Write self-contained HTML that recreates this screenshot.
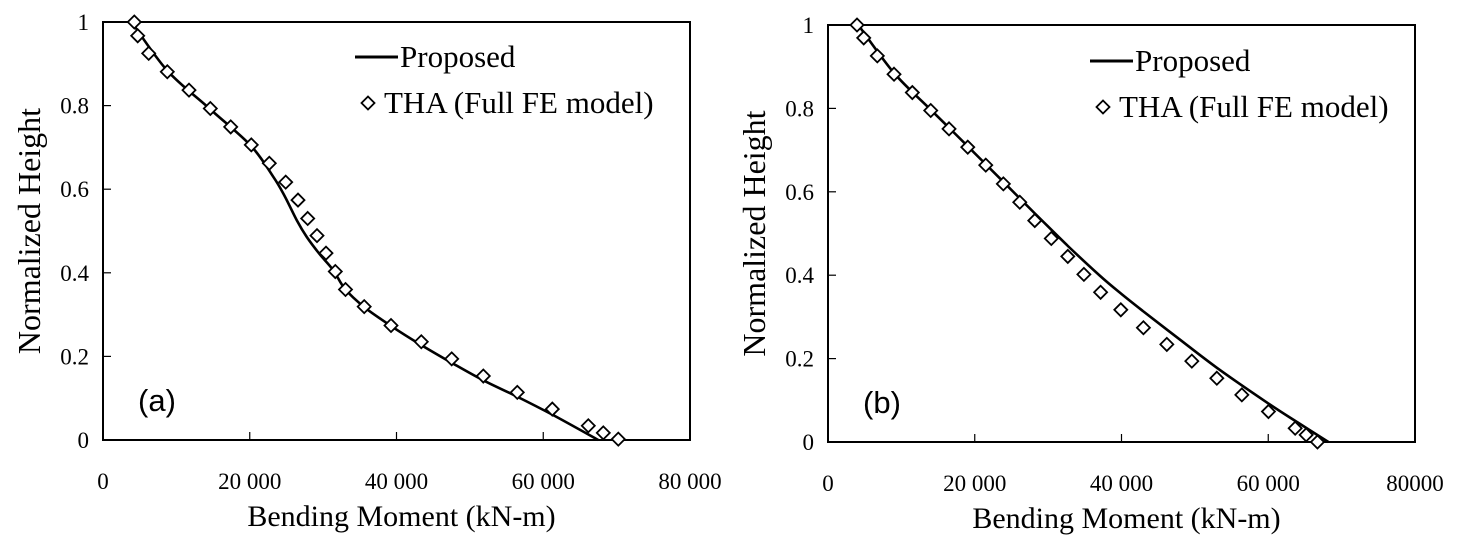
<!DOCTYPE html>
<html><head><meta charset="utf-8"><style>
html,body{margin:0;padding:0;background:#fff;}
svg{display:block;}
text{font-family:"Liberation Serif",serif;fill:#000;}
</style></head>
<body>
<svg id="chart" width="1460" height="547" viewBox="0 0 1460 547" xmlns="http://www.w3.org/2000/svg"></svg>
<script>
// Panel (a) data
const aThaX = [4266,4729,6228,8763,11721,14624,17404,20211,22665,24900,26576,27898,29165,30392,31659,33049,35598,39251,43380,47523,51830,56463,61233,66140,68184,70228];
const aThaY = [1.0,0.967,0.925,0.881,0.837,0.793,0.749,0.706,0.662,0.617,0.574,0.530,0.489,0.447,0.403,0.360,0.319,0.274,0.235,0.194,0.153,0.114,0.074,0.034,0.017,0.002];
const aPropX = [3900,8700,14500,20100,23200,24800,26400,27760,29500,31350,33000,35600,39250,43300,47500,51800,56400,61300,67500];
const aPropY = [1.0,0.885,0.793,0.705,0.63,0.582,0.526,0.486,0.445,0.407,0.361,0.318,0.273,0.228,0.185,0.143,0.104,0.06,0.0];
// Panel (b) data
const bThaX = [3954,4867,6721,8998,11493,14001,16496,19046,21500,23899,26135,28180,30430,32680,34874,37150,39905,42986,46176,49584,52993,56401,60027,63667,65167,66707];
const bThaY = [1.0,0.969,0.926,0.882,0.838,0.795,0.751,0.707,0.664,0.619,0.575,0.531,0.488,0.445,0.402,0.359,0.317,0.274,0.234,0.194,0.153,0.113,0.073,0.033,0.017,0.0];
const bPropX = [4130,9000,14000,19000,24000,28200,32700,37100,40000,43000,48000,53000,59800,64000,68200];
const bPropY = [1.0,0.885,0.797,0.71,0.622,0.548,0.47,0.398,0.355,0.313,0.245,0.178,0.095,0.047,0.0];
// Ticks
const xTickVals = [0,20000,40000,60000,80000];
const xTickLabelsA = ["0","20 000","40 000","60 000","80 000"];
const xTickLabelsB = ["0","20 000","40 000","60 000","80000"];
const yTickVals = [0,0.2,0.4,0.6,0.8,1];
const yTickLabels = ["0","0.2","0.4","0.6","0.8","1"];

const NS="http://www.w3.org/2000/svg";
const svg=document.getElementById('chart');
function mk(tag,attrs,parent){const e=document.createElementNS(NS,tag);for(const k in attrs)e.setAttribute(k,attrs[k]);(parent||svg).appendChild(e);return e;}
function smoothPath(P){
  let d=`M${P[0][0].toFixed(1)},${P[0][1].toFixed(1)}`;
  for(let i=0;i<P.length-1;i++){
    const p0=P[i-1]||P[i],p1=P[i],p2=P[i+1],p3=P[i+2]||P[i+1];
    const c1=[p1[0]+(p2[0]-p0[0])/6,p1[1]+(p2[1]-p0[1])/6];
    const c2=[p2[0]-(p3[0]-p1[0])/6,p2[1]-(p3[1]-p1[1])/6];
    d+=` C${c1[0].toFixed(1)},${c1[1].toFixed(1)} ${c2[0].toFixed(1)},${c2[1].toFixed(1)} ${p2[0].toFixed(1)},${p2[1].toFixed(1)}`;
  }
  return d;
}

function panel(cfg){
  const g=mk('g',{});
  
  
  const sx=v=>cfg.x0+(v/80000)*(cfg.x1-cfg.x0);
  const sy=v=>cfg.yb-v*(cfg.yb-cfg.yt);
  const frame=mk('rect',{x:cfg.x0,y:cfg.yt,width:cfg.x1-cfg.x0,height:cfg.yb-cfg.yt,fill:'none',stroke:'#000','stroke-width':2},g);
  
  
  xTickVals.forEach((v,i)=>{
    const x=sx(v);
    if(i>0&&i<xTickVals.length-1){const t=mk('line',{x1:x,x2:x,y1:cfg.yb,y2:cfg.yb-8,stroke:'#000','stroke-width':1.2},g);
      
      }
    const l=mk('text',{x:x,y:cfg.yb+49,'text-anchor':'middle','font-size':23},g);
    l.textContent=cfg.xLabels[i];
    
    
  });
  yTickVals.forEach((v,i)=>{
    const y=sy(v);
    if(i>0&&i<yTickVals.length-1){const t=mk('line',{x1:cfg.x0,x2:cfg.x0+8,y1:y,y2:y,stroke:'#000','stroke-width':1.2},g);
      
      }
    const l=mk('text',{x:cfg.x0-14,y:y+8,'text-anchor':'end','font-size':23},g);
    l.textContent=yTickLabels[i];
    
    
  });
  const P=cfg.px.map((v,i)=>[sx(v),sy(cfg.py[i])]);
  const line=mk('path',{d:smoothPath(P),fill:'none',stroke:'#000','stroke-width':2.6,'stroke-linejoin':'round'},g);
  
  
  cfg.tx.forEach((v,i)=>{
    const x=sx(v),y=sy(cfg.ty[i]),r=6.5;
    const d=mk('polygon',{points:`${x},${y-r} ${x+r},${y} ${x},${y+r} ${x-r},${y}`,fill:'#fff',stroke:'#000','stroke-width':1.8},g);
    
    
  });
  // legend
  const lg=mk('g',{},g);
  
  
  mk('line',{x1:cfg.lx,x2:cfg.lx+43,y1:cfg.ly,y2:cfg.ly,stroke:'#000','stroke-width':3},lg);
  const t1=mk('text',{x:cfg.lx+45,y:cfg.ly+10,'font-size':31},lg);t1.textContent='Proposed';
  
  
  const dx=cfg.lx+13,dy=cfg.ly+46,r=6.5;
  mk('polygon',{points:`${dx},${dy-r} ${dx+r},${dy} ${dx},${dy+r} ${dx-r},${dy}`,fill:'#fff',stroke:'#000','stroke-width':1.8},lg);
  const t2=mk('text',{x:cfg.lx+29,y:cfg.ly+56,'font-size':31},lg);t2.textContent='THA (Full FE model)';
  
  
  // titles
  const xt=mk('text',{x:(cfg.x0+cfg.x1)/2+5,y:cfg.yb+86,'text-anchor':'middle','font-size':30},g);
  xt.textContent='Bending Moment (kN-m)';
  
  
  const yc=(cfg.yt+cfg.yb)/2;
  const yt=mk('text',{x:cfg.ytx,y:yc,'text-anchor':'middle','font-size':32,transform:`rotate(-90 ${cfg.ytx} ${yc})`},g);
  yt.textContent='Normalized Height';
  
  
  const pl=mk('text',{x:cfg.x0+35,y:cfg.yb-29,'font-size':31,style:'font-family:"Liberation Sans",sans-serif'},g);
  pl.textContent=cfg.tag;
  
  
}
panel({id:'panel-a',x0:103,x1:690,yt:22,yb:440,px:aPropX,py:aPropY,tx:aThaX,ty:aThaY,xLabels:xTickLabelsA,lx:355,ly:57,ytx:40,tag:'(a)'});
panel({id:'panel-b',x0:828,x1:1415,yt:25,yb:442,px:bPropX,py:bPropY,tx:bThaX,ty:bThaY,xLabels:xTickLabelsB,lx:1090,ly:61,ytx:765,tag:'(b)'});
</script>
</body></html>
